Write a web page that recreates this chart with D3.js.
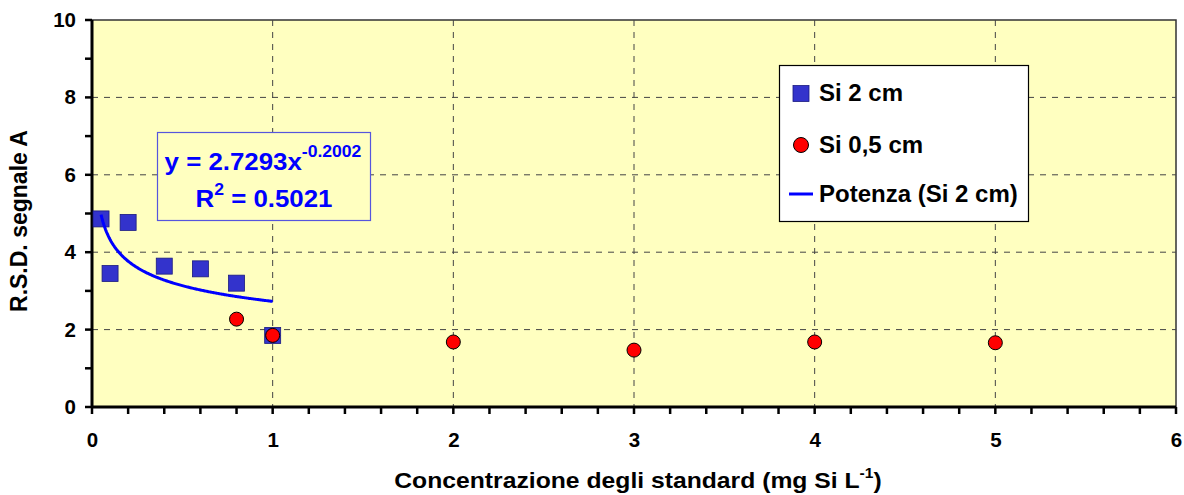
<!DOCTYPE html>
<html>
<head>
<meta charset="utf-8">
<script src="https://cdn.jsdelivr.net/npm/d3@7"></script>
<style>
  html, body { margin: 0; padding: 0; background: #ffffff; }
  svg { display: block; font-family: "Liberation Sans", Arial, sans-serif; }
</style>
</head>
<body>
<svg id="chart" width="1184" height="495"></svg>
<script>
// Series: RSD of signal A vs. standard concentration
const si2cmX = [0.05, 0.1, 0.2, 0.4, 0.6, 0.8, 1.0];
const si2cmY = [4.86, 3.45, 4.77, 3.64, 3.57, 3.2, 1.85];
const si05cmX = [0.8, 1.0, 2, 3, 4, 5];
const si05cmY = [2.27, 1.85, 1.68, 1.47, 1.68, 1.66];

// Power fit of the Si 2 cm series: y = a * x^b
const fitCoef = [2.7293, -0.2002];
const fitR2 = 0.5021;

const xTicks = [0, 1, 2, 3, 4, 5, 6];
const yTicks = [0, 2, 4, 6, 8, 10];

const FONT = "Liberation Sans, Arial, sans-serif";
const svg = d3.select("#chart");
const plot = { left: 92, top: 20, right: 1176, bottom: 407 };

const x = d3.scaleLinear().domain([0, 6]).range([plot.left, plot.right]);
const y = d3.scaleLinear().domain([0, 10]).range([plot.bottom, plot.top]);

// Plot background
svg.append("rect")
  .attr("x", plot.left).attr("y", plot.top)
  .attr("width", plot.right - plot.left).attr("height", plot.bottom - plot.top)
  .attr("fill", "#ffffc0")
  .attr("stroke", "#333").attr("stroke-width", 1.5);

// Dashed gridlines
const grid = svg.append("g").attr("stroke", "#444").attr("stroke-width", 1)
  .attr("stroke-dasharray", "6,6");
grid.selectAll("line.gx").data(xTicks.filter(d => d > 0 && d < 6)).join("line")
  .attr("class", "gx")
  .attr("x1", d => x(d)).attr("x2", d => x(d))
  .attr("y1", plot.top).attr("y2", plot.bottom);
grid.selectAll("line.gy").data(yTicks.filter(d => d > 0 && d < 10)).join("line")
  .attr("class", "gy")
  .attr("y1", d => y(d)).attr("y2", d => y(d))
  .attr("x1", plot.left).attr("x2", plot.right);

// Tick marks (minor every 0.2 on x, every 1 on y)
const xMinor = d3.range(0, 31).map(i => i * 0.2);
const yMinor = d3.range(0, 11);
const ticks = svg.append("g").attr("stroke", "#000").attr("stroke-width", 2.5);
ticks.selectAll("line.tx").data(xMinor).join("line")
  .attr("class", "tx")
  .attr("x1", d => x(d)).attr("x2", d => x(d))
  .attr("y1", plot.bottom).attr("y2", plot.bottom + 7);
ticks.selectAll("line.ty").data(yMinor).join("line")
  .attr("class", "ty")
  .attr("x1", plot.left - 7).attr("x2", plot.left)
  .attr("y1", d => y(d)).attr("y2", d => y(d));

// Tick labels via d3 axes
const xAxisG = svg.append("g").attr("transform", `translate(0,${plot.bottom})`);
xAxisG.call(d3.axisBottom(x).tickValues(xTicks).tickSize(0).tickPadding(25).tickFormat(d3.format("d")))
  .call(g => g.select(".domain").remove())
  .call(g => g.selectAll(".tick line").remove())
  .call(g => g.selectAll(".tick text")
    .attr("font-family", FONT)
    .attr("font-size", 20.5).attr("font-weight", "bold").attr("fill", "#000"));

const yAxisG = svg.append("g").attr("transform", `translate(${plot.left},0)`);
yAxisG.call(d3.axisLeft(y).tickValues(yTicks).tickSize(0).tickPadding(16).tickFormat(d3.format("d")))
  .call(g => g.select(".domain").remove())
  .call(g => g.selectAll(".tick line").remove())
  .call(g => g.selectAll(".tick text")
    .attr("font-family", FONT)
    .attr("font-size", 20.5).attr("font-weight", "bold").attr("fill", "#000"));

// Heavy axis lines
svg.append("line").attr("x1", plot.left).attr("x2", plot.left)
  .attr("y1", plot.top).attr("y2", plot.bottom + 1)
  .attr("stroke", "#000").attr("stroke-width", 3);
svg.append("line").attr("x1", plot.left - 1).attr("x2", plot.right)
  .attr("y1", plot.bottom).attr("y2", plot.bottom)
  .attr("stroke", "#000").attr("stroke-width", 3);

// Si 2 cm squares
const sq = 16;
svg.append("g").selectAll("rect")
  .data(si2cmX.map((v, i) => [v, si2cmY[i]])).join("rect")
  .attr("x", d => x(d[0]) - sq / 2).attr("y", d => y(d[1]) - sq / 2)
  .attr("width", sq).attr("height", sq)
  .attr("fill", "#3333cc").attr("stroke", "#1a1a80").attr("stroke-width", 0.8);

// Power trend line
const [fa, fb] = fitCoef;
const xs = d3.range(si2cmX[0], si2cmX[si2cmX.length - 1] + 1e-9, 0.005);
svg.append("path")
  .datum(xs)
  .attr("d", d3.line().x(d => x(d)).y(d => y(fa * Math.pow(d, fb))))
  .attr("fill", "none").attr("stroke", "#0000ff").attr("stroke-width", 3);

// Si 0,5 cm circles
svg.append("g").selectAll("circle")
  .data(si05cmX.map((v, i) => [v, si05cmY[i]])).join("circle")
  .attr("cx", d => x(d[0])).attr("cy", d => y(d[1])).attr("r", 7)
  .attr("fill", "#ff0000").attr("stroke", "#000").attr("stroke-width", 1);

// Equation box
const eq = svg.append("g");
eq.append("rect").attr("x", 157.5).attr("y", 132.5).attr("width", 213).attr("height", 88)
  .attr("fill", "#ffffc0").attr("stroke", "#5555dd").attr("stroke-width", 1.2);
const eqText = (cx, cyBase) => eq.append("g")
  .attr("transform", `translate(${cx},${cyBase}) scale(1.1,1)`)
  .append("text").attr("x", 0).attr("y", 0)
  .attr("text-anchor", "middle").attr("font-size", 23.5).attr("font-weight", "bold").attr("fill", "#0000ff");
const eqT = eqText(263, 170);
eqT.append("tspan").text(`y = ${fa.toFixed(4)}x`);
eqT.append("tspan").attr("dy", -13).attr("font-size", 16).text(fb.toFixed(4));
const r2T = eqText(264, 207);
r2T.append("tspan").text("R");
r2T.append("tspan").attr("dy", -12).attr("font-size", 16).text("2");
r2T.append("tspan").attr("dy", 12).text(` = ${fitR2.toFixed(4)}`);

// Legend
const lg = svg.append("g");
lg.append("rect").attr("x", 779.5).attr("y", 65.5).attr("width", 249).attr("height", 156)
  .attr("fill", "#ffffff").attr("stroke", "#000").attr("stroke-width", 1.2);
const legRows = [
  { label: "Si 2 cm", type: "square", cy: 93.5 },
  { label: "Si 0,5 cm", type: "circle", cy: 145 },
  { label: "Potenza (Si 2 cm)", type: "line", cy: 194 }
];
legRows.forEach(r => {
  if (r.type === "square") {
    lg.append("rect").attr("x", 793).attr("y", r.cy - 8).attr("width", 16).attr("height", 16)
      .attr("fill", "#3333cc").attr("stroke", "#1a1a80").attr("stroke-width", 0.8);
  } else if (r.type === "circle") {
    lg.append("circle").attr("cx", 801).attr("cy", r.cy).attr("r", 7.5)
      .attr("fill", "#ff0000").attr("stroke", "#000").attr("stroke-width", 1);
  } else {
    lg.append("line").attr("x1", 789).attr("x2", 813).attr("y1", r.cy).attr("y2", r.cy)
      .attr("stroke", "#0000ff").attr("stroke-width", 3);
  }
  lg.append("text").attr("x", 819).attr("y", r.cy + 7.5)
    .attr("font-size", 24).attr("font-weight", "bold").attr("fill", "#000").text(r.label);
});

// Axis titles
svg.append("text")
  .attr("transform", `translate(27,221) rotate(-90)`)
  .attr("text-anchor", "middle").attr("font-size", 23).attr("font-weight", "bold")
  .text("R.S.D. segnale A");

const xt = svg.append("g").attr("transform", "translate(638,488) scale(1.075,1)")
  .append("text").attr("x", 0).attr("y", 0)
  .attr("text-anchor", "middle").attr("font-size", 23).attr("font-weight", "bold");
xt.append("tspan").text("Concentrazione degli standard (mg Si L");
xt.append("tspan").attr("dy", -10).attr("font-size", 14.5).text("-1");
xt.append("tspan").attr("dy", 10).text(")");
</script>
</body>
</html>
